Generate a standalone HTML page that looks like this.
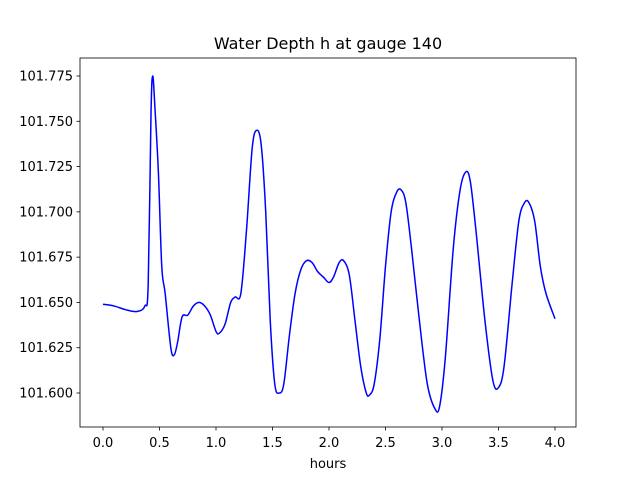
<!DOCTYPE html>
<html><head><meta charset="utf-8"><style>
body{margin:0;background:#fff;font-family:"Liberation Sans","DejaVu Sans",sans-serif}
svg text{font-family:"DejaVu Sans","Liberation Sans",sans-serif;font-size:13px}
</style></head><body>
<svg id="chart" width="640" height="480">
<rect width="640" height="480" fill="#fff"/>
<text x="328" y="49" text-anchor="middle" style="font-size:16px">Water Depth h at gauge 140</text>
<g id="ticks"></g>
<path id="line" fill="none" stroke="#0000ff" stroke-width="1.5"/>
<rect x="80" y="58" width="496" height="369" fill="none" stroke="#000" stroke-width="0.8"/>
<text x="328" y="468" text-anchor="middle">hours</text>
</svg>
<script>
const hours=[0,0.1,0.2,0.3,0.37,0.4,0.425,0.44,0.46,0.49,0.52,0.55,0.6,0.63,0.66,0.7,0.75,0.8,0.85,0.9,0.95,1.0,1.03,1.08,1.13,1.17,1.22,1.27,1.32,1.36,1.4,1.44,1.48,1.52,1.56,1.6,1.65,1.7,1.75,1.8,1.85,1.9,1.95,2.0,2.04,2.09,2.13,2.18,2.23,2.28,2.33,2.36,2.4,2.45,2.5,2.55,2.6,2.64,2.68,2.73,2.8,2.87,2.94,2.98,3.03,3.1,3.16,3.21,3.25,3.3,3.38,3.45,3.5,3.55,3.62,3.68,3.73,3.77,3.82,3.87,3.92,4.0];
const depth=[101.649,101.648,101.646,101.645,101.648,101.66,101.755,101.775,101.757,101.722,101.67,101.655,101.625,101.621,101.628,101.642,101.643,101.648,101.65,101.648,101.643,101.634,101.633,101.638,101.65,101.653,101.655,101.69,101.735,101.745,101.737,101.7,101.64,101.605,101.6,101.605,101.632,101.655,101.668,101.673,101.672,101.667,101.664,101.661,101.664,101.672,101.673,101.665,101.64,101.615,101.6,101.599,101.605,101.63,101.67,101.7,101.711,101.712,101.705,101.68,101.64,101.605,101.591,101.593,101.62,101.68,101.712,101.722,101.717,101.69,101.64,101.607,101.603,101.615,101.66,101.695,101.705,101.705,101.695,101.67,101.655,101.641];
const xTicks=[0,0.5,1,1.5,2,2.5,3,3.5,4];
const yTicks=[101.6,101.625,101.65,101.675,101.7,101.725,101.75,101.775];
function X(v){return 103+v*113;}
function Y(v){return 393-(v-101.6)*1811.4;}
const NS="http://www.w3.org/2000/svg";
const g=document.getElementById('ticks');
function mk(t,a){const e=document.createElementNS(NS,t);for(const k in a)e.setAttribute(k,a[k]);g.appendChild(e);return e;}
xTicks.forEach(v=>{
 const l=mk('line',{x1:X(v),x2:X(v),y1:427,y2:430.5,stroke:'#000','stroke-width':0.8});
 
 
 const t=mk('text',{x:X(v),y:447,'text-anchor':'middle'});t.textContent=v.toFixed(1);
 
 
});
yTicks.forEach(v=>{
 const l=mk('line',{x1:76.5,x2:80,y1:Y(v),y2:Y(v),stroke:'#000','stroke-width':0.8});
 
 
 const t=mk('text',{x:73,y:Y(v)+4.5,'text-anchor':'end'});t.textContent=v.toFixed(3);
 
 
});
const P=hours.map((h,i)=>[X(h),Y(depth[i])]);
let d='M'+P[0][0]+','+P[0][1];
for(let i=0;i<P.length-1;i++){
 const p0=P[Math.max(0,i-1)],p1=P[i],p2=P[i+1],p3=P[Math.min(P.length-1,i+2)];
 const c1=[p1[0]+(p2[0]-p0[0])/6,p1[1]+(p2[1]-p0[1])/6];
 const c2=[p2[0]-(p3[0]-p1[0])/6,p2[1]-(p3[1]-p1[1])/6];
 d+=' C'+c1+' '+c2+' '+p2;
}
document.getElementById('line').setAttribute('d',d);
</script>
</body></html>
